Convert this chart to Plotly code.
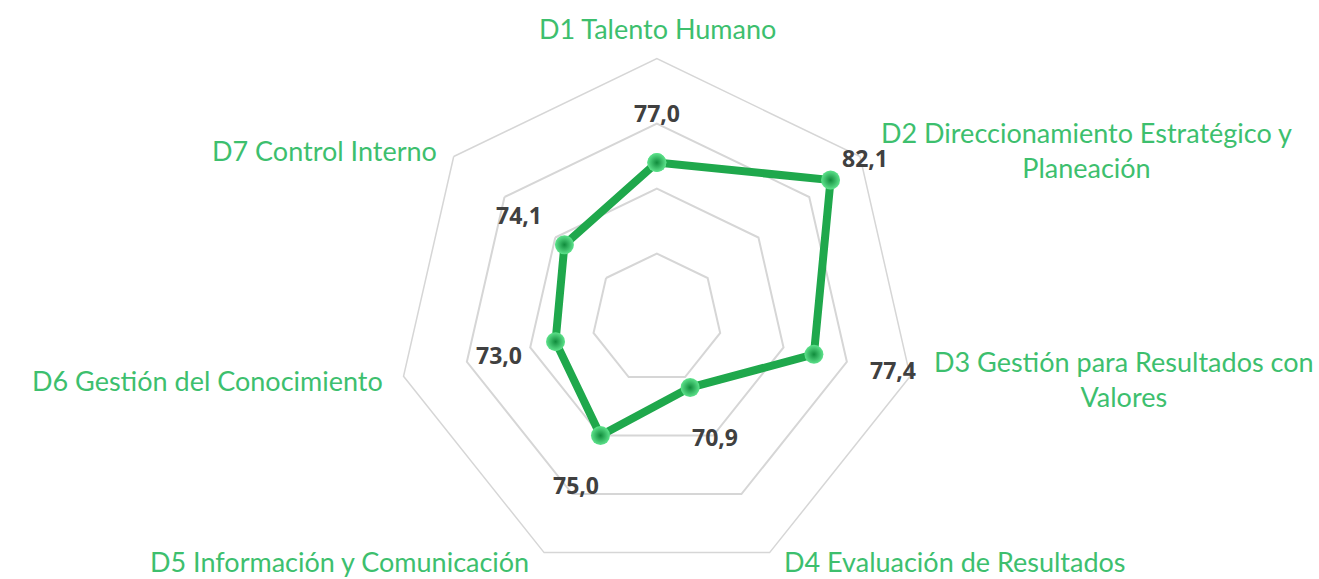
import plotly.graph_objects as go

categories = [
    "D1 Talento Humano",
    "D2 Direccionamiento Estratégico y<br>Planeación",
    "D3 Gestión para Resultados con<br>Valores",
    "D4 Evaluación de Resultados",
    "D5 Información y Comunicación",
    "D6 Gestión del Conocimiento",
    "D7 Control Interno",
]
values = [77.0, 82.1, 77.4, 70.9, 75.0, 73.0, 74.1]
value_labels = ["77,0", "82,1", "77,4", "70,9", "75,0", "73,0", "74,1"]

# layout: label placements in pixels of the 1319x579 page (style, not data)
W, H = 1319, 579
category_label_px = [(657, 28), (1086, 150), (1124, 379), (955, 561),
                     (339, 561), (207, 380), (324, 150)]
value_label_px = [(657, 113), (865, 158), (893, 370), (715, 437),
                  (576, 485), (499, 355), (519, 215)]

fig = go.Figure()
fig.add_trace(go.Scatterpolar(
    r=values + values[:1],
    theta=categories + categories[:1],
    mode="lines+markers",
    line=dict(color="#1fa84c", width=8),
    marker=dict(size=19, color="#5ee38c",
                gradient=dict(type="radial", color="#108c3c"),
                line=dict(width=0)),
    showlegend=False,
    hoverinfo="r+theta",
))

annotations = []
for txt, (px, py) in zip(categories, category_label_px):
    annotations.append(dict(
        x=px / W, y=1 - py / H, xref="paper", yref="paper",
        xanchor="center", yanchor="middle", align="center",
        text=txt, showarrow=False,
        font=dict(family="Lato", size=27, color="#3dbf6e"),
    ))
for txt, (px, py) in zip(value_labels, value_label_px):
    annotations.append(dict(
        x=px / W, y=1 - py / H, xref="paper", yref="paper",
        xanchor="center", yanchor="middle",
        text=txt, showarrow=False,
        font=dict(family="Open Sans", size=23, color="#404040", weight="bold"),
    ))

fig.update_layout(
    width=W, height=H,
    margin=dict(l=0, r=0, t=0, b=0),
    paper_bgcolor="white",
    plot_bgcolor="white",
    annotations=annotations,
    polar=dict(
        domain=dict(x=[0.301, 0.695], y=[0.0, 0.8998]),
        bgcolor="white",
        gridshape="linear",
        radialaxis=dict(
            range=[65, 85], tick0=65, dtick=5,
            showticklabels=False, ticks="", showline=False,
            gridcolor="#d6d6d6", gridwidth=1.5,
        ),
        angularaxis=dict(
            rotation=90, direction="clockwise",
            showgrid=False, showline=True,
            linecolor="#d6d6d6", linewidth=1.5,
            showticklabels=False, ticks="",
        ),
    ),
)

fig.write_html(
    "out.html",
    config={"displayModeBar": False},
    post_script="document.body.style.margin='0';document.body.style.overflow='hidden';",
)
